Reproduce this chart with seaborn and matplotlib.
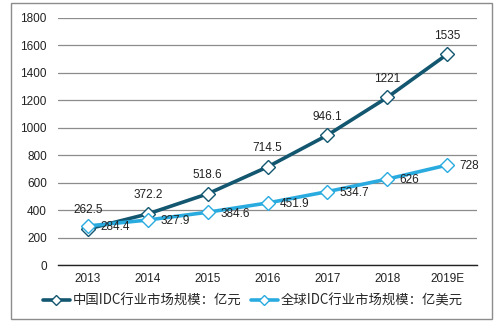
import matplotlib
matplotlib.use("Agg")
import matplotlib.pyplot as plt
import seaborn as sns
import pandas as pd
from matplotlib.patches import Rectangle

years = ["2013", "2014", "2015", "2016", "2017", "2018", "2019E"]
china = [262.5, 372.2, 518.6, 714.5, 946.1, 1221, 1535]
world = [284.4, 327.9, 384.6, 451.9, 534.7, 626, 728]
china_labels = ["262.5", "372.2", "518.6", "714.5", "946.1", "1221", "1535"]
world_labels = ["284.4", "327.9", "384.6", "451.9", "534.7", "626", "728"]
name_china = "中国IDC行业市场规模：亿元"
name_world = "全球IDC行业市场规模：亿美元"

sns.set_theme(style="white")
plt.rcParams['font.family'] = ['Liberation Sans', 'Noto Sans CJK SC', 'DejaVu Sans']

c_dark = "#125670"
c_light = "#29abe0"

df = pd.DataFrame({
    "year": years * 2,
    "value": china + world,
    "series": [name_china] * len(years) + [name_world] * len(years),
})

fig = plt.figure(figsize=(5.03, 3.27), dpi=100)
ax = fig.add_axes([58/503, 1-265/327, (477-58)/503, (265-18)/327])

sns.lineplot(data=df, x="year", y="value", hue="series",
             palette={name_china: c_dark, name_world: c_light},
             marker="D", markersize=7, markerfacecolor="white",
             markeredgewidth=1.0, linewidth=2.6, sort=False, ax=ax)
for line, col in zip(ax.lines, [c_dark, c_light]):
    line.set_markeredgecolor(col)

ax.set_xlim(-0.5, len(years) - 0.5)
ax.set_ylim(0, 1800)
ax.set_yticks(range(0, 1801, 200))
ax.set_xlabel("")
ax.set_ylabel("")
ax.yaxis.grid(True, color="#8c8c8c", linewidth=0.9)
ax.set_axisbelow(True)
for s in ["left", "right", "top"]:
    ax.spines[s].set_visible(False)
ax.spines["bottom"].set_color("#222222")
ax.spines["bottom"].set_linewidth(1.0)
ax.tick_params(axis="both", length=0, labelsize=8.5, colors="#222222")
ax.tick_params(axis="x", pad=6)
ax.tick_params(axis="y", pad=8)

for i, (v, t) in enumerate(zip(china, china_labels)):
    ax.annotate(t, (i, v), xytext=(0, 9), textcoords="offset points",
                ha="center", va="bottom", fontsize=8.5, color="#222222")
for i, (v, t) in enumerate(zip(world, world_labels)):
    ax.annotate(t, (i, v), xytext=(9, -1), textcoords="offset points",
                ha="left", va="center", fontsize=8.5, color="#222222")

ax.legend_.remove()
handles, labels = ax.get_legend_handles_labels()
leg = fig.legend(handles, labels, loc="center", bbox_to_anchor=(253/503, 1-301/327),
                 ncol=2, frameon=False, handlelength=2.0,
                 columnspacing=0.7, handletextpad=0.25,
                 prop={'family': ['Noto Sans CJK SC', 'DejaVu Sans'], 'size': 9.6})
for h, col in zip(leg.legend_handles, [c_dark, c_light]):
    h.set_markeredgecolor(col)
    h.set_markerfacecolor("white")
    h.set_markersize(5)
    h.set_linewidth(2.6)

fig.patches.append(Rectangle((11/503, 1-319/327), (492-11)/503, (319-3)/327,
                             transform=fig.transFigure, fill=False,
                             edgecolor="#8c8c8c", linewidth=1.0))

fig.savefig("out.png", dpi=100)
